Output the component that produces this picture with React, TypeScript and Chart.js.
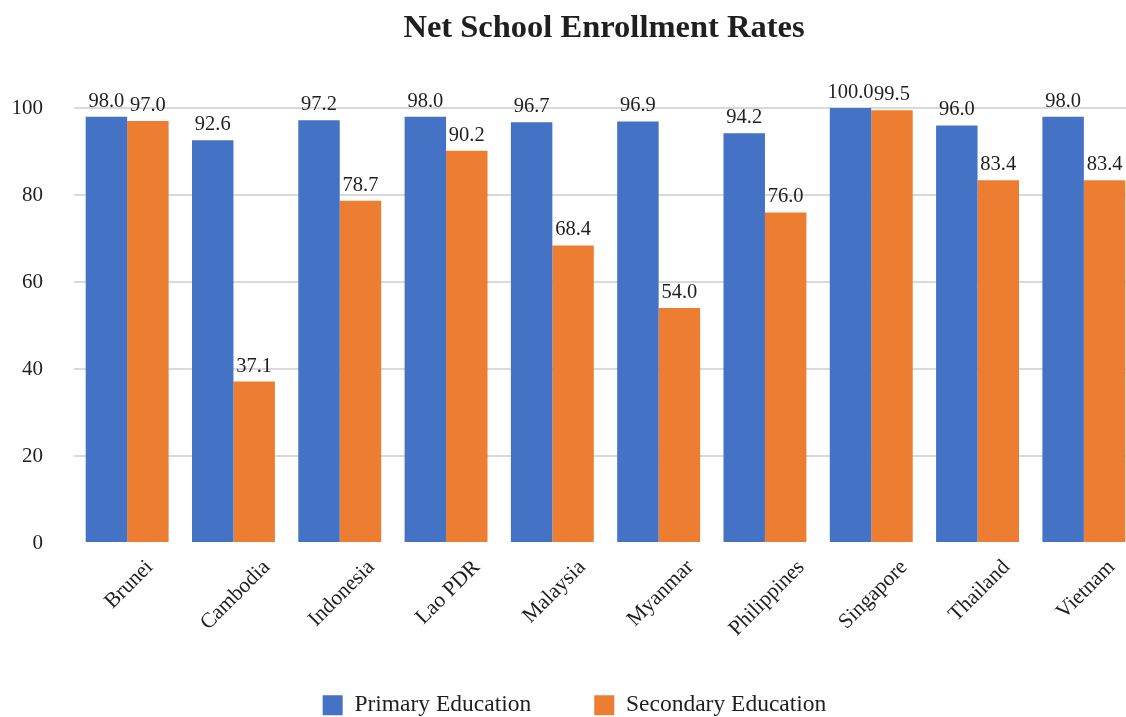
import React, { useEffect, useRef } from "react";
import { Chart, registerables } from "chart.js";

Chart.register(...registerables);

const categories = ["Brunei", "Cambodia", "Indonesia", "Lao PDR", "Malaysia", "Myanmar", "Philippines", "Singapore", "Thailand", "Vietnam"];
const primaryValues = [98.0, 92.6, 97.2, 98.0, 96.7, 96.9, 94.2, 100.0, 96.0, 98.0];
const secondaryValues = [97.0, 37.1, 78.7, 90.2, 68.4, 54.0, 76.0, 99.5, 83.4, 83.4];
const seriesNames = ["Primary Education", "Secondary Education"];
const chartTitle = "Net School Enrollment Rates";

const SERIF = "'Liberation Serif', 'Times New Roman', serif";
const TEXT = "#1f1f1f";

const titlePlugin = {
  id: "customTitle",
  afterDraw(chart: any) {
    const ctx = chart.ctx;
    ctx.save();
    ctx.font = `bold 32.5px ${SERIF}`;
    ctx.fillStyle = TEXT;
    ctx.textAlign = "center";
    ctx.textBaseline = "alphabetic";
    ctx.fillText(chartTitle, 604, 37);
    ctx.restore();
  },
};

const xLabelsPlugin = {
  id: "xLabels",
  afterDraw(chart: any) {
    const ctx = chart.ctx;
    const xs = chart.scales.x;
    const y0 = chart.chartArea.bottom + 21;
    ctx.save();
    ctx.font = `21.5px ${SERIF}`;
    ctx.fillStyle = TEXT;
    ctx.textAlign = "right";
    ctx.textBaseline = "middle";
    categories.forEach((label, i) => {
      const cx = xs.getPixelForValue(i);
      const w = ctx.measureText(label).width;
      const ax = cx + (w * Math.SQRT1_2) / 2 + 2;
      ctx.save();
      ctx.translate(ax, y0);
      ctx.rotate(-Math.PI / 4);
      ctx.fillText(label, 0, 0);
      ctx.restore();
    });
    ctx.restore();
  },
};

const valueLabels = {
  id: "valueLabels",
  afterDatasetsDraw(chart: any) {
    const ctx = chart.ctx;
    ctx.save();
    ctx.font = `20.5px ${SERIF}`;
    ctx.fillStyle = TEXT;
    ctx.textAlign = "center";
    ctx.textBaseline = "alphabetic";
    chart.data.datasets.forEach((ds: any, i: number) => {
      const meta = chart.getDatasetMeta(i);
      meta.data.forEach((bar: any, j: number) => {
        const v = ds.data[j];
        ctx.fillText(Number(v).toFixed(1), bar.x, bar.y - 10);
      });
    });
    ctx.restore();
  },
};

export default function App() {
  const ref = useRef<HTMLCanvasElement | null>(null);
  useEffect(() => {
    document.body.style.margin = "0";
    const chart = new Chart(ref.current as HTMLCanvasElement, {
      type: "bar",
      data: {
        labels: categories,
        datasets: [
          { label: seriesNames[0], data: primaryValues, backgroundColor: "#4472C4", borderWidth: 0 },
          { label: seriesNames[1], data: secondaryValues, backgroundColor: "#ED7D31", borderWidth: 0 },
        ],
      },
      options: {
        animation: false,
        responsive: false,
        maintainAspectRatio: false,
        layout: { padding: { left: 12, right: 0, top: 108, bottom: -10 } },
        datasets: { bar: { categoryPercentage: 0.78, barPercentage: 1.0 } },
        scales: {
          x: {
            grid: { display: false, drawTicks: false },
            border: { display: false },
            ticks: { display: false },
            afterFit(scale: any) {
              scale.height = 87.5;
              scale.paddingLeft = 0;
              scale.paddingRight = 0;
            },
          },
          y: {
            min: 0,
            max: 100,
            grid: {
              color: (c: any) => (c.tick && c.tick.value === 0 ? "rgba(0,0,0,0)" : "#d9d9d9"),
              lineWidth: 2,
              drawTicks: false,
            },
            border: { display: false },
            ticks: {
              stepSize: 20,
              padding: 31,
              color: TEXT,
              font: { family: SERIF, size: 21 },
            },
            afterFit(scale: any) {
              scale.width = 62;
            },
          },
        },
        plugins: {
          title: { display: false },
          legend: {
            position: "bottom",
            labels: {
              boxWidth: 20,
              boxHeight: 20,
              padding: 63,
              color: TEXT,
              font: { family: SERIF, size: 23.5 },
            },
          },
          tooltip: { enabled: false },
        },
      },
      plugins: [valueLabels, xLabelsPlugin, titlePlugin],
    });
    return () => chart.destroy();
  }, []);
  return (
    <div style={{ width: 1126, height: 717, overflow: "hidden" }}>
      <canvas ref={ref} width={1137} height={717} style={{ display: "block" }} />
    </div>
  );
}
